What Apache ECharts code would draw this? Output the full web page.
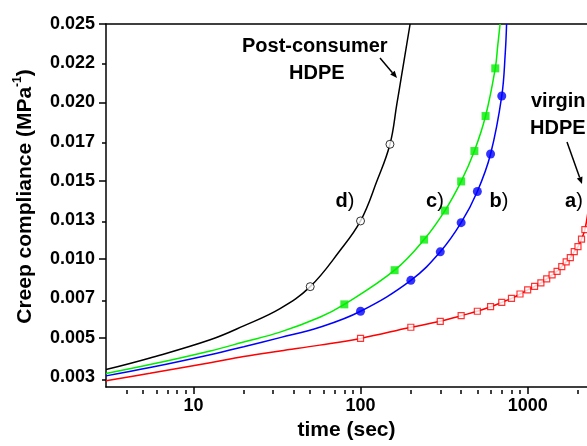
<!DOCTYPE html>
<html>
<head>
<meta charset="utf-8">
<script src="https://cdn.jsdelivr.net/npm/echarts@6/dist/echarts.min.js"></script>
<style>
html,body{margin:0;padding:0;background:#fff;}
#c{width:587px;height:446px;}
</style>
</head>
<body>
<div id="c"></div>
<script>
// ---- axis ticks ----
var xMajorTicks = [10, 100, 1000];
var xMinorTicks = [4,5,6,7,8,9,20,30,40,50,60,70,80,90,200,300,400,500,600,700,800,900,2000];
var yTickValues = [0.0025,0.005,0.0075,0.01,0.0125,0.015,0.0175,0.02,0.0225,0.025];
var yTickLabels = ['0.003','0.005','0.007','0.010','0.013','0.015','0.017','0.020','0.022','0.025'];
var yMajorTicks = [0.005,0.01,0.015,0.02,0.025];
var yMinorTicks = [0.0025,0.0075,0.0125,0.0175,0.0225];

// ---- curve d) post-consumer HDPE (black) ----
var curveD = [[3,0.00296],[5.5,0.0037],[12.6,0.00486],[20,0.00575],[33,0.00685],[50,0.00825],[75,0.01052],[100,0.01244],[125,0.01495],[150,0.01733],[165,0.0199],[175,0.02155],[198,0.025]];
var markD = [[50,0.00825],[100,0.01244],[150,0.01733]];

// ---- curve c) (green) ----
var curveC = [[3,0.00271],[5.5,0.00328],[12.6,0.00415],[20,0.00472],[33,0.00535],[57,0.0063],[80,0.00712],[160,0.0093],[240,0.01125],[320,0.0131],[400,0.01496],[480,0.0169],[560,0.01913],[640,0.02217],[662,0.0236],[684,0.025]];
var markC = [[80,0.00712],[160,0.0093],[240,0.01125],[320,0.0131],[400,0.01496],[480,0.0169],[560,0.01913],[640,0.02217]];

// ---- curve b) (blue) ----
var curveB = [[3,0.00256],[5.5,0.00309],[12.6,0.00391],[20,0.00442],[33,0.005],[57,0.00566],[100,0.00668],[200,0.00865],[300,0.01047],[400,0.01233],[500,0.01432],[600,0.01671],[700,0.02041],[735,0.0232],[748,0.025]];
var markB = [[100,0.00668],[200,0.00865],[300,0.01047],[400,0.01233],[500,0.01432],[600,0.01671],[700,0.02041]];

// ---- curve a) virgin HDPE (red) ----
var curveAStart = [[3,0.00225],[5.5,0.00272],[12.6,0.0034],[20,0.0038],[33,0.00415],[57,0.00452]];
var markA = [[100,0.00495],[200,0.00566],[300,0.00604],[400,0.0064],[500,0.00668],[600,0.00697],[700,0.00725],[800,0.0075],[900,0.00778],[1000,0.00804],[1100,0.00827],[1200,0.00849],[1300,0.00875],[1400,0.009],[1500,0.00923],[1600,0.00953],[1700,0.00983],[1800,0.0101],[1900,0.01048],[2000,0.0108],[2100,0.01128],[2200,0.01189],[2300,0.0131]];

var FONT = '"Liberation Sans", Arial, sans-serif';
var chart = echarts.init(document.getElementById('c'), null, {renderer:'canvas'});

var xMin = 3, xMax = 2265, yMin = 0.00185, yMax = 0.025;
var axisLineStyle = {color:'#000', width:1.5};
var gridRect = {left:106, right:0, top:24, bottom:56, containLabel:false};

function yLabel(v){
  for (var i=0;i<yTickValues.length;i++){ if (Math.abs(yTickValues[i]-v) < 1e-7) return yTickLabels[i]; }
  return '';
}
function xLabel(v){ return String(Math.round(v)); }

function arrow(x1,y1,x2,y2){
  var ang = Math.atan2(y2-y1, x2-x1), L = 7, W = 3;
  var bx = x2 - L*Math.cos(ang), by = y2 - L*Math.sin(ang);
  var px = -Math.sin(ang)*W, py = Math.cos(ang)*W;
  return [
    {type:'line', shape:{x1:x1,y1:y1,x2:bx,y2:by}, style:{stroke:'#000', lineWidth:1.5}, z:100},
    {type:'polygon', shape:{points:[[x2,y2],[bx+px,by+py],[bx-px,by-py]]}, style:{fill:'#000'}, z:100}
  ];
}

var lblRich = {
  b:{fontFamily:FONT, fontWeight:'bold', fontSize:20, color:'#000'},
  n:{fontFamily:FONT, fontWeight:'normal', fontSize:20, color:'#333'}
};
function tag(txt, x, y){
  return {type:'text', x:x, y:y, z:100, style:{text:'{b|'+txt+'}{n|)}', rich:lblRich, align:'center', verticalAlign:'middle'}};
}
function boldText(txt, x, y){
  return {type:'text', x:x, y:y, z:100, style:{text:txt, fontFamily:FONT, fontWeight:'bold', fontSize:20, fill:'#000', align:'left', verticalAlign:'middle'}};
}

var graphics = [
  boldText('Post-consumer', 242, 46),
  boldText('HDPE', 289, 73),
  boldText('virgin', 531, 101),
  boldText('HDPE', 530, 128),
  tag('d', 345, 201),
  tag('c', 435, 201),
  tag('b', 499, 201),
  tag('a', 574, 201)
].concat(arrow(380,58,397,78)).concat(arrow(567,142,582,184));

var option = {
  animation:false,
  backgroundColor:'#fff',
  grid:[gridRect, gridRect],
  xAxis:[
    {type:'log', gridIndex:0, logBase:10, min:xMin, max:xMax, position:'bottom',
     axisLine:{show:true, lineStyle:axisLineStyle},
     axisTick:{show:true, inside:false, length:7, customValues:xMajorTicks, lineStyle:{color:'#000', width:1.5}},
     axisLabel:{show:true, customValues:xMajorTicks, formatter:xLabel, margin:10, fontFamily:FONT, fontWeight:'bold', fontSize:18, color:'#000'},
     splitLine:{show:false}, minorTick:{show:false},
     name:'time (sec)', nameLocation:'middle', nameGap:33,
     nameTextStyle:{fontFamily:FONT, fontWeight:'bold', fontSize:21, color:'#000'}},
    {type:'log', gridIndex:0, logBase:10, min:xMin, max:xMax, position:'top',
     axisLine:{show:true, lineStyle:axisLineStyle},
     axisTick:{show:false}, axisLabel:{show:false}, splitLine:{show:false}},
    {type:'log', gridIndex:1, logBase:10, min:xMin, max:xMax, position:'bottom',
     axisLine:{show:false},
     axisTick:{show:true, inside:false, length:4, customValues:xMinorTicks, lineStyle:{color:'#000', width:1.5}},
     axisLabel:{show:false}, splitLine:{show:false}}
  ],
  yAxis:[
    {type:'value', gridIndex:0, min:yMin, max:yMax, position:'left',
     axisLine:{show:true, lineStyle:axisLineStyle},
     axisTick:{show:true, inside:false, length:7, customValues:yMajorTicks, lineStyle:{color:'#000', width:1.5}},
     axisLabel:{show:true, customValues:yTickValues, formatter:yLabel, margin:11, fontFamily:FONT, fontWeight:'bold', fontSize:18, color:'#000'},
     splitLine:{show:false},
     name:'{t|Creep compliance (MPa}{s|-1}{t|)}', nameLocation:'middle', nameRotate:90, nameGap:68,
     nameTextStyle:{padding:[0,0,0,18], rich:{
       t:{fontFamily:FONT, fontWeight:'bold', fontSize:21, color:'#000', lineHeight:26},
       s:{fontFamily:FONT, fontWeight:'bold', fontSize:12, color:'#000', verticalAlign:'top', lineHeight:26}
     }}},
    {type:'value', gridIndex:1, min:yMin, max:yMax, position:'left',
     axisLine:{show:false},
     axisTick:{show:true, inside:false, length:4, customValues:yMinorTicks, lineStyle:{color:'#000', width:1.5}},
     axisLabel:{show:false}, splitLine:{show:false}}
  ],
  series:[
    {type:'line', name:'a line', data:curveAStart.concat(markA), smooth:0.4, symbol:'none', lineStyle:{color:'#ff0000', width:1.5}, clip:true, z:2},
    {type:'line', name:'b line', data:curveB, smooth:0.4, symbol:'none', lineStyle:{color:'#0000ff', width:1.5}, clip:true, z:2},
    {type:'line', name:'c line', data:curveC, smooth:0.4, symbol:'none', lineStyle:{color:'#00ee00', width:1.5}, clip:true, z:2},
    {type:'line', name:'d line', data:curveD, smooth:0.4, symbol:'none', lineStyle:{color:'#000', width:1.5}, clip:true, z:2},
    {type:'scatter', name:'a', data:markA, symbol:'rect', symbolSize:6, itemStyle:{color:'#fff', borderColor:'#ff0000', borderWidth:1.2}, clip:true, z:3},
    {type:'scatter', name:'b', data:markB, symbol:'circle', symbolSize:9, itemStyle:{color:'#0000ff', borderColor:'#0000ff', borderWidth:0}, clip:true, z:3},
    {type:'scatter', name:'c', data:markC, symbol:'rect', symbolSize:8, itemStyle:{color:'#00ee00', borderColor:'#00ee00', borderWidth:0}, clip:true, z:3},
    {type:'scatter', name:'d', data:markD, symbol:'circle', symbolSize:8, itemStyle:{color:'#fff', borderColor:'#000', borderWidth:1}, clip:true, z:3},
    {type:'scatter', name:'minor-axes anchor', xAxisIndex:2, yAxisIndex:1, data:[], silent:true}
  ],
  graphic:graphics
};
chart.setOption(option);
</script>
</body>
</html>
